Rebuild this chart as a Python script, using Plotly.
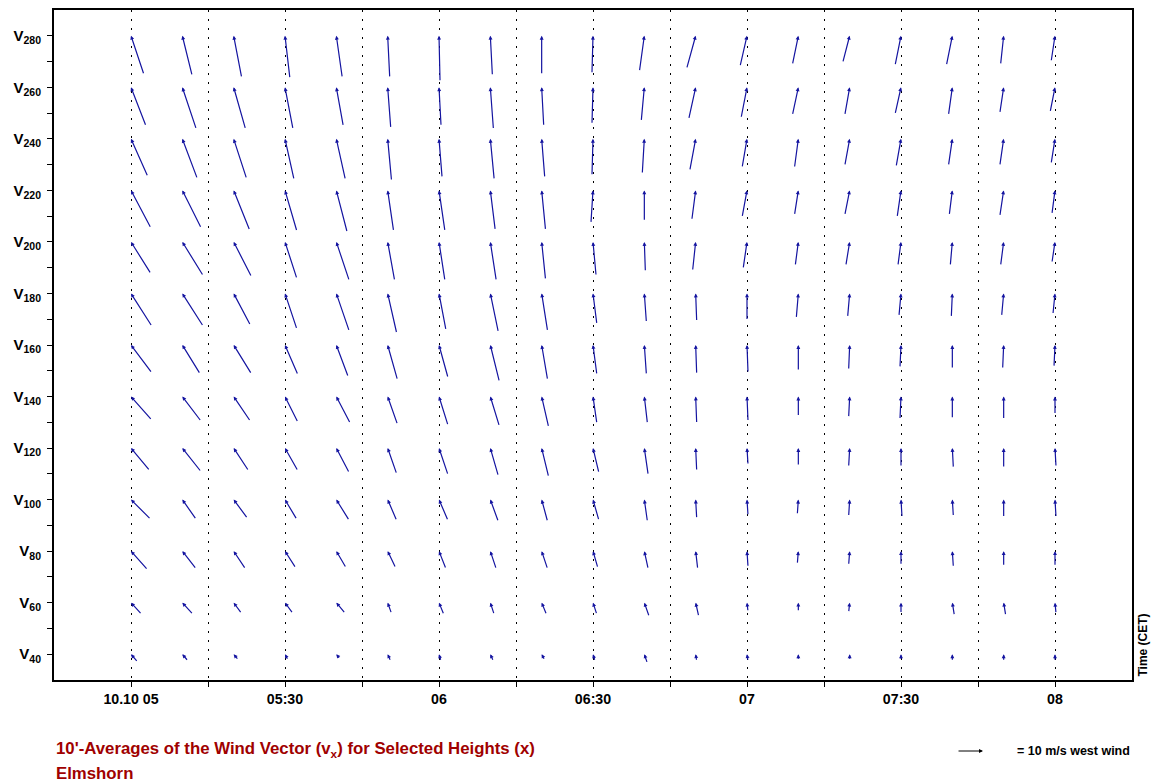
import plotly.graph_objects as go

# Times in minutes since midnight (05:00 .. 08:00 every 10 min)
times = [300, 310, 320, 330, 340, 350, 360, 370, 380, 390, 400, 410, 420, 430, 440, 450, 460, 470, 480]
heights = [280, 260, 240, 220, 200, 180, 160, 140, 120, 100, 80, 60, 40]

# u (east-west, m/s, + = toward east) per height
u280 = [-5.0, -3.8, -3.1, -1.9, -2.3, -0.8, -0.4, -0.8, 0.0, 0.4, 1.9, 3.5, 2.7, 2.3, 2.7, 2.3, 2.3, 1.2, 1.5]
u260 = [-5.8, -5.4, -4.6, -3.1, -2.7, -1.2, -0.8, -1.2, -0.8, 0.4, 1.2, 2.7, 2.3, 2.3, 1.9, 2.3, 1.5, 1.5, 1.9]
u240 = [-6.5, -5.8, -5.0, -3.5, -3.5, -1.5, -1.2, -1.5, -1.2, 0.4, 0.8, 2.3, 1.9, 1.5, 1.9, 1.9, 1.5, 1.5, 1.5]
u220 = [-7.7, -7.3, -6.2, -4.6, -4.2, -2.3, -2.3, -1.9, -1.5, 0.8, 0.0, 1.5, 1.9, 1.5, 1.9, 1.5, 1.2, 1.5, 1.2]
u200 = [-7.7, -8.1, -6.9, -4.6, -5.0, -2.7, -2.3, -2.3, -1.5, -1.2, -0.4, 1.2, 1.5, 1.2, 1.5, 1.2, 0.8, 1.2, 1.2]
u180 = [-8.1, -8.1, -6.5, -4.6, -5.0, -3.5, -2.7, -3.1, -2.3, -1.5, -0.8, -0.4, 0.0, 0.8, 0.8, 0.8, 0.4, 0.8, 0.8]
u160 = [-8.1, -6.9, -6.9, -5.0, -4.6, -3.8, -3.5, -3.5, -2.3, -1.5, -0.8, -0.4, -0.4, 0.0, 0.4, 0.4, 0.0, 0.4, 0.4]
u140 = [-8.1, -7.3, -6.5, -5.0, -5.4, -3.8, -3.5, -3.5, -2.7, -1.5, -1.2, -0.4, -0.4, 0.0, 0.4, 0.4, 0.0, 0.0, 0.0]
u120 = [-7.3, -7.3, -5.8, -5.0, -5.0, -3.5, -3.5, -3.1, -2.7, -2.3, -1.5, -0.4, -0.4, 0.0, 0.4, 0.0, -0.4, 0.0, -0.4]
u100 = [-7.7, -5.4, -5.4, -4.6, -5.0, -3.5, -3.5, -3.1, -2.3, -2.3, -1.2, -0.4, -0.4, 0.4, 0.4, -0.4, -0.4, 0.0, -0.4]
u80 = [-6.5, -5.4, -4.6, -4.2, -3.8, -3.1, -2.7, -2.3, -2.3, -1.9, -1.5, -0.8, -0.4, 0.4, 0.4, 0.0, -0.4, 0.0, 0.0]
u60 = [-4.2, -4.2, -3.1, -3.1, -3.5, -1.5, -1.9, -1.5, -1.9, -1.5, -1.9, -1.2, -0.4, 0.0, 0.4, 0.0, -0.8, -0.8, -0.4]
u40 = [-2.7, -2.3, -1.9, -1.2, -1.5, -1.2, -0.8, -1.2, -1.2, -0.8, -1.2, -0.4, -0.4, 0.0, 0.0, 0.0, 0.0, 0.0, 0.0]

# v (north-south, m/s, + = toward north) per height
v280 = [15.0, 15.4, 16.2, 16.5, 16.2, 16.2, 17.7, 15.4, 15.0, 14.6, 13.8, 12.7, 11.9, 11.2, 10.4, 11.5, 11.5, 11.2, 10.0]
v260 = [15.0, 16.2, 16.2, 16.2, 15.0, 15.8, 15.0, 16.2, 15.0, 14.2, 13.1, 12.3, 11.9, 10.8, 10.8, 10.4, 10.8, 10.0, 9.6]
v240 = [14.6, 15.4, 15.4, 15.8, 15.8, 16.2, 15.0, 15.8, 15.0, 14.2, 13.5, 12.3, 11.2, 11.2, 10.4, 10.8, 10.4, 10.4, 9.6]
v220 = [14.6, 14.6, 15.4, 15.8, 16.2, 15.8, 15.8, 15.4, 15.4, 12.7, 11.9, 11.5, 10.4, 9.6, 9.6, 10.4, 9.6, 10.0, 9.2]
v200 = [12.3, 13.1, 13.5, 14.2, 15.0, 15.0, 15.0, 15.0, 14.6, 13.1, 11.5, 11.2, 10.4, 9.2, 9.2, 9.2, 9.2, 9.2, 8.1]
v180 = [12.7, 12.7, 12.3, 13.8, 14.6, 15.4, 14.2, 15.0, 14.6, 11.9, 11.2, 10.8, 10.4, 9.6, 9.2, 8.8, 9.2, 8.8, 8.1]
v160 = [10.8, 11.2, 11.2, 11.5, 12.3, 13.5, 12.7, 14.2, 13.5, 11.5, 11.5, 11.2, 10.8, 10.0, 9.6, 8.8, 9.2, 9.2, 8.5]
v140 = [9.2, 9.6, 9.6, 10.0, 10.4, 10.8, 11.2, 11.5, 11.9, 10.4, 10.4, 10.4, 9.6, 7.7, 8.1, 8.8, 8.5, 8.8, 6.9]
v120 = [8.8, 9.2, 8.8, 8.8, 9.6, 10.0, 10.4, 10.8, 11.2, 9.6, 10.4, 8.8, 6.5, 6.9, 7.3, 7.3, 7.7, 7.7, 7.3]
v100 = [7.7, 7.7, 7.3, 7.7, 8.1, 8.1, 8.1, 8.5, 8.5, 8.1, 8.5, 7.3, 6.2, 5.8, 6.5, 6.9, 6.5, 6.9, 6.9]
v80 = [7.3, 6.9, 6.9, 6.5, 6.5, 6.5, 6.9, 6.9, 6.9, 6.5, 6.9, 6.9, 6.2, 5.0, 5.4, 5.4, 6.2, 5.8, 5.8]
v60 = [4.6, 4.6, 4.2, 4.2, 4.2, 4.2, 4.6, 4.6, 4.6, 4.6, 5.4, 5.4, 3.5, 3.5, 3.8, 4.2, 5.0, 5.0, 4.2]
v40 = [3.1, 2.7, 2.3, 2.3, 1.9, 2.7, 2.7, 2.7, 2.3, 2.7, 3.5, 2.7, 2.7, 2.3, 2.3, 2.3, 2.7, 2.7, 2.7]

U = [u280, u260, u240, u220, u200, u180, u160, u140, u120, u100, u80, u60, u40]
V = [v280, v260, v240, v220, v200, v180, v160, v140, v120, v100, v80, v60, v40]

x_tickvals = [300, 315, 330, 345, 360, 375, 390, 405, 420, 435, 450, 465, 480]
x_ticktext = ["10.10 05", "", "05:30", "", "06", "", "06:30", "", "07", "", "07:30", "", "08"]
y_tickvals = [40, 60, 80, 100, 120, 140, 160, 180, 200, 220, 240, 260, 280]
y_minor = [50, 70, 90, 110, 130, 150, 170, 190, 210, 230, 250, 270]
y_ticktext = ["V<sub>%d</sub>" % h for h in y_tickvals]

PX_PER_MS = 2.6  # arrow length in pixels per m/s (legend: 10 m/s)
ARROW_COLOR = "#1414a0"
FONT = "Liberation Sans"

fig = go.Figure()
# invisible anchor trace so the axes exist
fig.add_trace(go.Scatter(x=[times[0], times[-1]], y=[heights[-1], heights[0]],
                         mode="markers", marker=dict(opacity=0), hoverinfo="skip",
                         showlegend=False))

annotations = []
for h, urow, vrow in zip(heights, U, V):
    for t, u, v in zip(times, urow, vrow):
        annotations.append(dict(
            x=t, y=h, xref="x", yref="y",
            ax=-u * PX_PER_MS, ay=v * PX_PER_MS,
            axref="pixel", ayref="pixel",
            showarrow=True, arrowhead=2, arrowsize=0.65, arrowwidth=1.2,
            arrowcolor=ARROW_COLOR, text="", standoff=0,
        ))

# Titles at bottom
annotations.append(dict(
    x=0, y=0, xref="paper", yref="paper", xanchor="left", yanchor="middle",
    yshift=-69, showarrow=False,
    text="<b>10'-Averages of the Wind Vector (v<sub>x</sub>) for Selected Heights (x)</b>",
    font=dict(family=FONT, size=16.8, color="#a00000"), align="left"))
annotations.append(dict(
    x=0, y=0, xref="paper", yref="paper", xanchor="left", yanchor="middle",
    yshift=-93, showarrow=False, text="<b>Elmshorn</b>",
    font=dict(family=FONT, size=16.8, color="#a00000"), align="left"))

# Legend arrow (10 m/s west wind)
legend_len = 10 * PX_PER_MS
annotations.append(dict(
    x=0.8618, y=0, xref="paper", yref="paper", yshift=-71,
    ax=-legend_len, ay=0, axref="pixel", ayref="pixel",
    showarrow=True, arrowhead=2, arrowsize=0.8, arrowwidth=1, arrowcolor="black",
    text="", standoff=0))
annotations.append(dict(
    x=1, y=0, xref="paper", yref="paper", xanchor="right", yanchor="middle",
    yshift=-71, showarrow=False, text="<b>= 10 m/s west wind</b>",
    font=dict(family=FONT, size=12.5, color="black")))
# Time axis label (rotated)
annotations.append(dict(
    x=1, y=0, xref="paper", yref="paper", xanchor="left", yanchor="bottom",
    xshift=1, yshift=1, showarrow=False, text="<b>Time (CET)</b>", textangle=-90,
    font=dict(family=FONT, size=12, color="black")))

fig.update_layout(
    width=1153, height=784,
    margin=dict(l=54, r=21, t=10, b=104, autoexpand=False),
    paper_bgcolor="white", plot_bgcolor="white",
    showlegend=False,
    annotations=annotations,
    font=dict(family=FONT, color="black"),
)
fig.update_xaxes(
    range=[285, 495], tickmode="array", tickvals=x_tickvals, ticktext=x_ticktext,
    ticks="outside", ticklen=5, tickwidth=1, tickcolor="black",
    tickfont=dict(family=FONT, size=14.2, color="black", weight="bold"),
    showgrid=True, gridcolor="black", gridwidth=1, griddash="2px,7px",
    showline=True, linecolor="black", linewidth=2, mirror=True,
    zeroline=False, automargin=False,
)
fig.update_yaxes(
    range=[30, 290], tickmode="array", tickvals=y_tickvals, ticktext=y_ticktext,
    ticks="outside", ticklen=5, tickwidth=1, tickcolor="black",
    tickfont=dict(family=FONT, size=15, color="black", weight="bold"),
    minor=dict(ticks="outside", ticklen=5, tickwidth=1, tickcolor="black",
               tickmode="array", tickvals=y_minor, showgrid=False),
    showgrid=False, ticklabelstandoff=3,
    showline=True, linecolor="black", linewidth=2, mirror=True,
    zeroline=False, automargin=False,
)

fig.write_html("out.html", config={"displayModeBar": False},
               post_script="document.body.style.margin='0';document.body.style.overflow='hidden';")
